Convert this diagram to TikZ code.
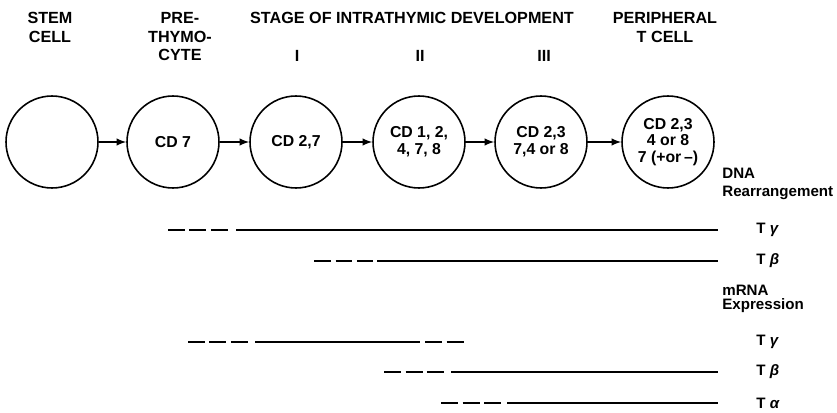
\documentclass[tikz,border=0pt]{standalone}
\usepackage{fontspec}
\setmainfont{Liberation Sans}

\begin{document}
\begin{tikzpicture}[
	x=0.02cm, y=-0.02cm,
	cellnode/.style={shape=circle, draw, line width=0.9pt, minimum size=1.84cm, inner sep=0pt, align=center, font=\bfseries\fontsize{9}{9.6}\selectfont},
	headtext/.style={anchor=north, align=center, inner sep=0pt, font=\bfseries\fontsize{9.2}{10.6}\selectfont},
	sidetext/.style={anchor=west, inner sep=0pt, font=\bfseries\fontsize{8.6}{10}\selectfont},
	arr/.style={-latex, line width=0.9pt},
	bar/.style={line width=0.9pt},
	dashbar/.style={line width=0.9pt, dash pattern=on 0.34cm off 0.09cm},
]
\useasboundingbox (0,0) rectangle (837,412);

% column heads
\node[headtext] (stemhd) at (50,12) {STEM\\CELL};
\node[headtext] (prehd) at (180,12) {PRE-\\THYMO-\\CYTE};
\node[headtext] (stagehd) at (412,12) {STAGE OF INTRATHYMIC DEVELOPMENT};
\node[headtext] (perihd) at (665,12) {PERIPHERAL\\T CELL};
\node[headtext] (st1hd) at (297,50) {I};
\node[headtext] (st2hd) at (420,50) {II};
\node[headtext] (st3hd) at (544,50) {III};

% cells
\node[cellnode] (stem) at (52,142) {};
\node[cellnode] (pre) at (173,142) {CD 7};
\node[cellnode] (st1) at (296,142) {CD 2,7};
\node[cellnode] (st2) at (419,142) {CD 1, 2,\\4, 7, 8};
\node[cellnode] (st3) at (541,142) {CD 2,3\\7,4 or 8};
\node[cellnode] (peri) at (668,142) {CD 2,3\\4 or 8\\7 (+or\,--)};

\draw[arr] (stem) -- (pre);
\draw[arr] (pre) -- (st1);
\draw[arr] (st1) -- (st2);
\draw[arr] (st2) -- (st3);
\draw[arr] (st3) -- (peri);

% DNA rearrangement
\node[sidetext] (dna) at (722,173) {DNA};
\node[sidetext] (rearr) at (722,193) {Rearrangement};
\node[sidetext] (dnag) at (756,230) {T {\itshape γ}};
\node[sidetext] (dnab) at (756,261) {T {\itshape β}};
\draw[dashbar] (168,230) -- (232,230);
\draw[bar] (236,230) -- (718,230);
\draw[dashbar] (314,261) -- (373,261);
\draw[bar] (377,261) -- (718,261);

% mRNA expression
\node[sidetext] (mrna) at (722,290) {mRNA};
\node[sidetext] (expr) at (722,306) {Expression};
\node[sidetext] (rnag) at (756,342) {T {\itshape γ}};
\node[sidetext] (rnab) at (756,372) {T {\itshape β}};
\node[sidetext] (rnaa) at (756,403) {T {\itshape α}};
\draw[dashbar] (188,342) -- (251,342);
\draw[bar] (255,342) -- (420,342);
\draw[dashbar] (425,342) -- (467,342);
\draw[dashbar] (384,372) -- (447,372);
\draw[bar] (451,372) -- (718,372);
\draw[dashbar] (441,403) -- (503,403);
\draw[bar] (507,403) -- (718,403);
\end{tikzpicture}
\end{document}
